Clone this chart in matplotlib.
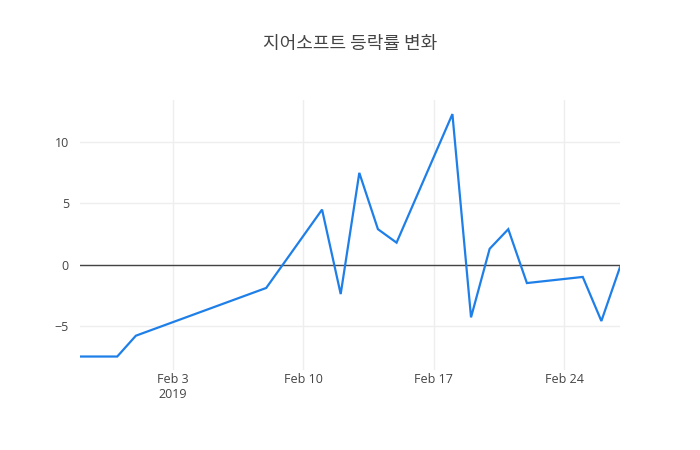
import matplotlib
matplotlib.use("Agg")
import matplotlib.pyplot as plt
import matplotlib.dates as mdates
import numpy as np
import datetime as dt

plt.rcParams['font.family'] = ['Open Sans', 'Noto Sans CJK KR', 'DejaVu Sans']

title = "지어소프트 등락률 변화"
dates = ["2019-01-29", "2019-01-31", "2019-02-01", "2019-02-08", "2019-02-11",
         "2019-02-12", "2019-02-13", "2019-02-14", "2019-02-15", "2019-02-18",
         "2019-02-19", "2019-02-20", "2019-02-21", "2019-02-22", "2019-02-25",
         "2019-02-26", "2019-02-27"]
changes = [-7.5, -7.5, -5.8, -1.9, 4.5, -2.4, 7.5, 2.9, 1.8, 12.3,
           -4.3, 1.3, 2.9, -1.5, -1.0, -4.6, -0.2]
tick_dates = ["2019-02-03", "2019-02-10", "2019-02-17", "2019-02-24"]
tick_labels = ["Feb 3\n2019", "Feb 10", "Feb 17", "Feb 24"]
y_ticks = [-5, 0, 5, 10]

x = [dt.datetime.strptime(d, "%Y-%m-%d") for d in dates]
xt = [dt.datetime.strptime(d, "%Y-%m-%d") for d in tick_dates]

fig = plt.figure(figsize=(7, 4.5), dpi=100)
ax = fig.add_axes([80/700, 80/450, 540/700, 270/450])

ax.plot(x, changes, color='#1f7fe8', linewidth=1.6, zorder=3, solid_joinstyle='miter')
ax.axhline(0, color='#444444', linewidth=1, zorder=2)

ax.set_xlim(x[0], x[-1])
ax.set_ylim(-8.6, 13.45)
ax.set_xticks(xt)
ax.set_xticklabels(tick_labels)
ax.set_yticks(y_ticks)
ax.set_yticklabels([str(v).replace('-', '\u2212') for v in y_ticks])

ax.grid(True, color='#eeeeee', linewidth=1, zorder=0)
for s in ax.spines.values():
    s.set_visible(False)
ax.tick_params(axis='both', length=0, labelsize=9, colors='#444444', pad=8)
ax.tick_params(axis='x', pad=2)
for lab in ax.get_xticklabels():
    lab.set_linespacing(1.25)

fig.text(0.5, 1 - 44/450, title, ha='center', va='center', fontsize=13,
         color='#444444', family=['Noto Sans CJK KR', 'DejaVu Sans'])

fig.savefig("out.png", dpi=100, facecolor='white')
